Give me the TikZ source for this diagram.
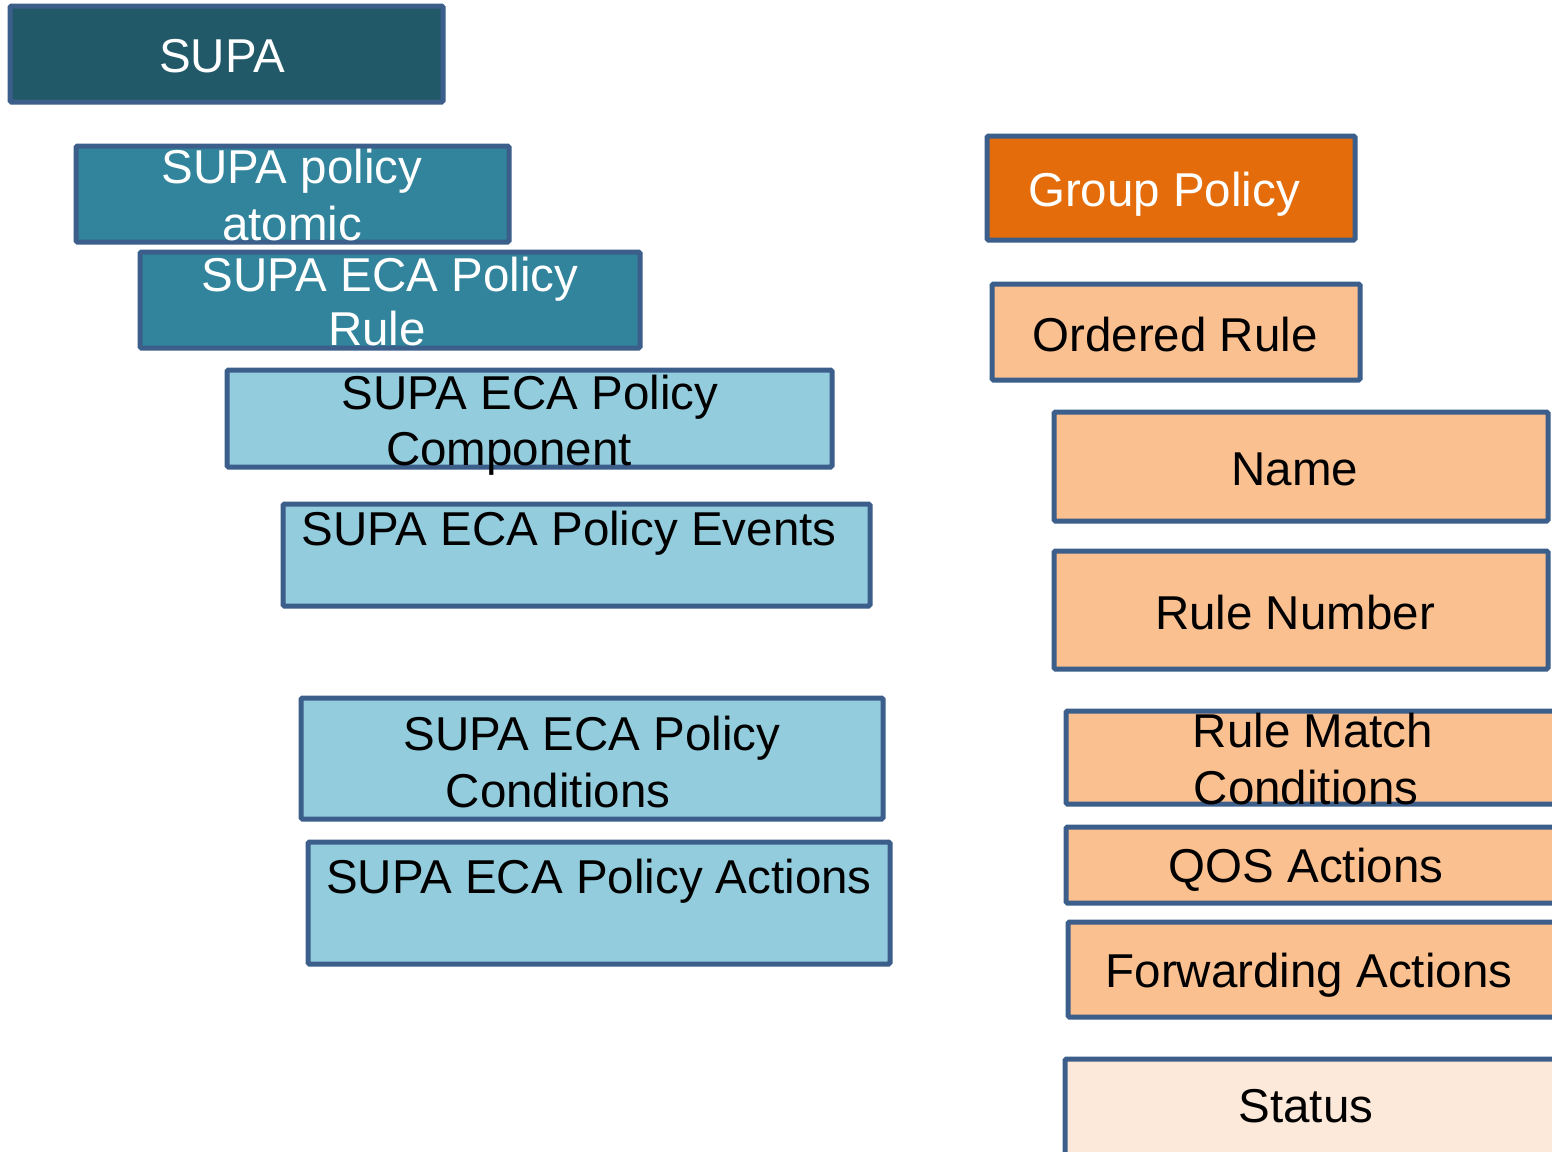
\documentclass[tikz,border=0pt]{standalone}
\usepackage{fontspec}
\setmainfont{Liberation Sans}
\definecolor{bordc}{HTML}{3B5E8B}
\definecolor{darkteal}{HTML}{215968}
\definecolor{midteal}{HTML}{31849B}
\definecolor{lightblue}{HTML}{93CDDD}
\definecolor{orangec}{HTML}{E46C0A}
\definecolor{peach}{HTML}{FAC090}
\definecolor{palepeach}{HTML}{FDE9D9}
\begin{document}
\begin{tikzpicture}[x=1pt,y=-1pt,
  box/.style={draw=bordc, line width=5pt, rounded corners=1.5pt, inner sep=0pt, outer sep=0pt},
  txt/.style={anchor=base, inner sep=0pt, font=\fontsize{47.5}{57}\selectfont},
  wtxt/.style={txt, text=white},
  btxt/.style={txt, text=black}]
\clip (0,0) rectangle (1552,1151);
\fill[white] (0,0) rectangle (1552,1151);
% left column
\node[box, fill=darkteal, minimum width=433pt, minimum height=96pt] (supa) at (226.5,54) {};
\node[box, fill=midteal, minimum width=433pt, minimum height=96pt] (atomic) at (292.5,194) {};
\node[box, fill=midteal, minimum width=500pt, minimum height=96pt] (ecarule) at (390,300) {};
\node[box, fill=lightblue, minimum width=605pt, minimum height=97pt] (comp) at (529.5,418.5) {};
\node[box, fill=lightblue, minimum width=587pt, minimum height=102pt] (events) at (576.5,555) {};
\node[box, fill=lightblue, minimum width=582pt, minimum height=121pt] (conds) at (592,758.5) {};
\node[box, fill=lightblue, minimum width=582pt, minimum height=122pt] (acts) at (599,903) {};
% right column
\node[box, fill=orangec, minimum width=368pt, minimum height=104pt] (group) at (1171,188) {};
\node[box, fill=peach, minimum width=368pt, minimum height=96pt] (ordered) at (1176,332) {};
\node[box, fill=peach, minimum width=494pt, minimum height=109pt] (name) at (1301,466.5) {};
\node[box, fill=peach, minimum width=494pt, minimum height=118pt] (rulenum) at (1301,610) {};
\node[box, fill=peach, minimum width=500pt, minimum height=93pt] (match) at (1316,757.5) {};
\node[box, fill=peach, minimum width=500pt, minimum height=76pt] (qos) at (1316,865) {};
\node[box, fill=peach, minimum width=500pt, minimum height=95pt] (fwd) at (1318,969.5) {};
\node[box, fill=palepeach, minimum width=500pt, minimum height=120pt] (status) at (1315,1119) {};
% texts
\node[wtxt] (supa-t) at (222,72) {SUPA};
\node[wtxt] (atomic-t1) at (292,183) {SUPA policy};
\node[wtxt] (atomic-t2) at (292,240) {atomic};
\node[wtxt] (ecarule-t1) at (390,291) {SUPA ECA Policy};
\node[wtxt] (ecarule-t2) at (377,345) {Rule};
\node[btxt] (comp-t1) at (530,409) {SUPA ECA Policy};
\node[btxt] (comp-t2) at (509,465) {Component};
\node[btxt] (events-t) at (569,545) {SUPA ECA Policy Events};
\node[btxt] (conds-t1) at (592,750) {SUPA ECA Policy};
\node[btxt] (conds-t2) at (558,807) {Conditions};
\node[btxt] (acts-t) at (599,893) {SUPA ECA Policy Actions};
\node[wtxt] (group-t) at (1164,206) {Group Policy};
\node[btxt] (ordered-t) at (1175,351) {Ordered Rule};
\node[btxt] (name-t) at (1295,485) {Name};
\node[btxt] (rulenum-t) at (1295,629) {Rule Number};
\node[btxt] (match-t1) at (1313,747) {Rule Match};
\node[btxt] (match-t2) at (1306,804) {Conditions};
\node[btxt] (qos-t) at (1306,882) {QOS Actions};
\node[btxt] (fwd-t) at (1309,987) {Forwarding Actions};
\node[btxt] (status-t) at (1306,1122) {Status};
\end{tikzpicture}
\end{document}
